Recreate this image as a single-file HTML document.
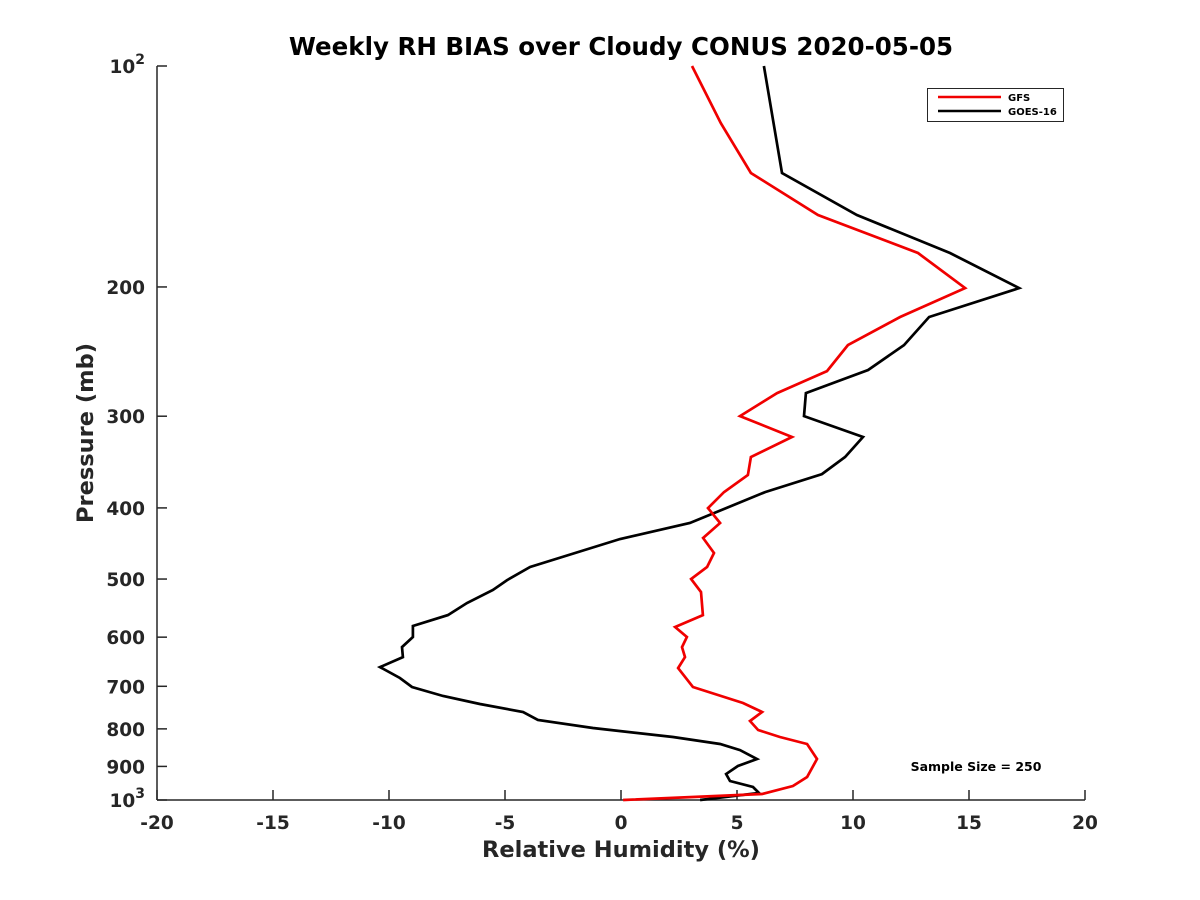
<!DOCTYPE html>
<html><head><meta charset="utf-8"><style>
html,body{margin:0;padding:0;background:#fff;}
svg{display:block;font-family:"DejaVu Sans","Liberation Sans",sans-serif;}
</style></head><body>
<svg id="chart" width="1200" height="900" viewBox="0 0 1200 900">
<rect width="1200" height="900" fill="#fff"/>
<text x="621" y="55" text-anchor="middle" font-size="24.5" font-weight="bold" fill="#000">Weekly RH BIAS over Cloudy CONUS 2020-05-05</text>
<g id="axes"></g>
<g id="series"></g>
<text x="621" y="857" text-anchor="middle" font-size="22.5" font-weight="bold" fill="#262626">Relative Humidity (%)</text>
<text transform="translate(93,433) rotate(-90)" text-anchor="middle" font-size="22.5" font-weight="bold" fill="#262626">Pressure (mb)</text>
<g>
<rect x="927.5" y="88.5" width="136" height="33" fill="#fff" stroke="#262626" stroke-width="1"/>
<line x1="938" y1="97" x2="1001" y2="97" stroke="#f00000" stroke-width="2.5"/>
<text x="1008" y="101" font-size="10" font-weight="bold" fill="#000">GFS</text>
<line x1="938" y1="111" x2="1001" y2="111" stroke="#000" stroke-width="2.5"/>
<text x="1008" y="115" font-size="10" font-weight="bold" fill="#000">GOES-16</text>
</g>
<text x="976" y="771" text-anchor="middle" font-size="12.5" font-weight="bold" fill="#000">Sample Size = 250</text>
</svg>
<script>
const xTicks = [-20,-15,-10,-5,0,5,10,15,20];
const yTicks = [100,200,300,400,500,600,700,800,900,1000];
const yTickLabels = ["10^2","200","300","400","500","600","700","800","900","10^3"];
const gfsP = [100,119.6,139.9,159.6,179.8,200.7,219.8,240,260.4,279,299.9,320.2,341,360.8,380.6,400.2,419.4,439.6,460.8,481.5,500,520.8,559.8,581.2,599.7,619,638.8,661.2,701.6,737.7,758.8,780.5,802.8,820.6,838.9,879.2,930.4,957,981.3,1000];
const gfsRH = [3.06,4.30,5.60,8.49,12.80,14.83,12.03,9.78,8.88,6.73,5.13,7.37,5.60,5.47,4.44,3.75,4.27,3.54,4.01,3.71,3.02,3.45,3.53,2.33,2.84,2.63,2.76,2.46,3.10,5.26,6.08,5.56,5.91,6.85,8.02,8.45,8.02,7.41,6.08,0.09];
const goesP = [100,139.9,159.6,179.8,200.7,219.8,240,259.5,279,299.9,320.2,341,359.7,380.6,419.4,441,481.5,501.6,517.5,539,559.8,579.4,599.7,619,638.8,659.1,682.1,701.6,721.6,740,758.8,778,797.8,820.6,838.9,855,879.2,898.8,921.7,942.1,960,978.4,1000];
const goesRH = [6.16,6.94,10.17,14.18,17.16,13.28,12.20,10.65,7.97,7.89,10.43,9.66,8.66,6.21,2.97,-0.04,-3.92,-4.91,-5.52,-6.64,-7.46,-8.97,-8.97,-9.44,-9.40,-10.39,-9.53,-9.01,-7.67,-6.08,-4.22,-3.58,-1.21,2.24,4.27,5.13,5.86,5.04,4.53,4.70,5.69,5.95,3.41];

const NS='http://www.w3.org/2000/svg';
const X0=157,X1=1085,Y0=66,Y1=800;
function xs(v){return X0+(v+20)/40*(X1-X0);}
function ys(p){return Y0+(Math.log10(p)-2)*(Y1-Y0);}
function mk(tag,attrs,parent){const e=document.createElementNS(NS,tag);for(const k in attrs)e.setAttribute(k,attrs[k]);parent.appendChild(e);return e;}
const axes=document.getElementById('axes');
const ax='#262626';
let l=mk('line',{x1:X0,y1:Y1,x2:X1,y2:Y1,stroke:ax,'stroke-width':1.5},axes);


l=mk('line',{x1:X0,y1:Y0,x2:X0,y2:Y1,stroke:ax,'stroke-width':1.5},axes);


xTicks.forEach(v=>{
  const x=xs(v);
  const t=mk('line',{x1:x,y1:Y1,x2:x,y2:Y1-10,stroke:ax,'stroke-width':1.5},axes);
  
  
  const tx=mk('text',{x:x,y:Y1+29,'text-anchor':'middle','font-size':18.5,'font-weight':'bold',fill:ax},axes);
  tx.textContent=String(v);
  
  
});
yTicks.forEach((p,i)=>{
  const y=ys(p);
  const t=mk('line',{x1:X0,y1:y,x2:X0+10,y2:y,stroke:ax,'stroke-width':1.5},axes);
  
  
  const lab=yTickLabels[i];
  const tx=mk('text',{x:X0-12,y:y+7,'text-anchor':'end','font-size':18.5,'font-weight':'bold',fill:ax},axes);
  if(lab.indexOf('^')>=0){
    const parts=lab.split('^');
    tx.appendChild(document.createTextNode(parts[0]));
    const s=mk('tspan',{dy:-9,'font-size':14},tx);
    s.textContent=parts[1];
  } else tx.textContent=lab;
  
  
});
const series=document.getElementById('series');
function line(P,R,color,name){
  const pts=P.map((p,i)=>xs(R[i]).toFixed(1)+','+ys(p).toFixed(1)).join(' ');
  const pl=mk('polyline',{points:pts,fill:'none',stroke:color,'stroke-width':2.7,'stroke-linejoin':'miter'},series);
  
  
}
line(goesP,goesRH,'#000','goes16-line');
line(gfsP,gfsRH,'#f00000','gfs-line');
</script>
</body></html>
